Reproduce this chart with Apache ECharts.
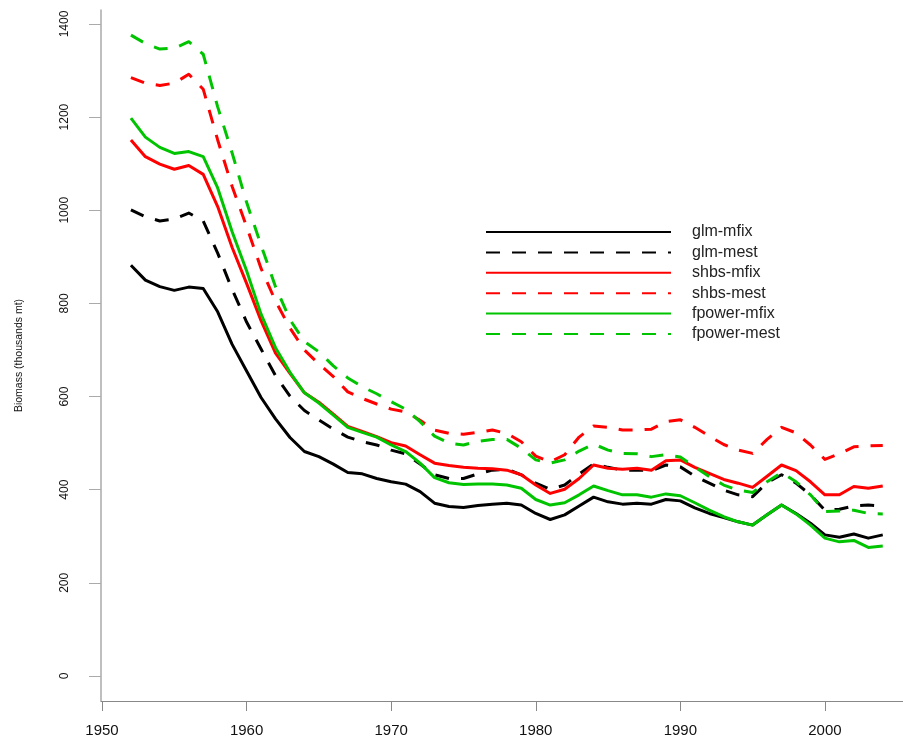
<!DOCTYPE html>
<html>
<head>
<meta charset="utf-8">
<script src="https://cdn.jsdelivr.net/npm/echarts@6/dist/echarts.min.js"></script>
<style>
  html, body { margin: 0; padding: 0; background: #fff; }
  #chart { width: 903px; height: 740px; }
</style>
</head>
<body>
<div id="chart"></div>
<script>
// ---- data ----
var years = [];
for (var y = 1952; y <= 2004; y++) years.push(y);

var glmMfix = [882, 850, 836, 828, 835, 832, 782, 712, 655, 598, 552, 512, 482, 471, 455, 437, 434, 424, 417, 412,
  396, 371, 364, 362, 366, 369, 371, 367, 349, 336, 346, 365, 384, 374, 369, 371, 369, 379, 376, 361,
  349, 340, 331, 324, 346, 367, 349, 328, 303, 298, 305, 296, 303];
var glmMest = [1001, 986, 977, 981, 994, 977, 908, 830, 760, 702, 645, 601, 570, 550, 530, 513, 503, 496, 485, 477,
  455, 432, 424, 424, 434, 442, 444, 432, 414, 401, 410, 434, 455, 448, 442, 442, 441, 453, 449, 429,
  414, 399, 389, 385, 415, 432, 414, 389, 356, 358, 365, 367, 365];
var shbsMfix = [1151, 1115, 1099, 1088, 1096, 1077, 1008, 920, 843, 763, 693, 650, 608, 588, 562, 536, 525, 514, 501, 494,
  475, 457, 452, 448, 446, 445, 442, 432, 410, 392, 401, 424, 453, 446, 444, 446, 442, 462, 464, 448,
  435, 422, 414, 405, 429, 453, 441, 417, 389, 389, 407, 403, 408];
var shbsMest = [1285, 1273, 1268, 1273, 1292, 1260, 1151, 1051, 965, 875, 805, 747, 700, 670, 643, 610, 596, 584, 573, 567,
  549, 528, 521, 519, 523, 528, 521, 503, 472, 460, 475, 513, 537, 534, 528, 528, 530, 546, 550, 534,
  515, 497, 485, 478, 508, 534, 522, 496, 465, 477, 492, 494, 495];
var fpowerMfix = [1198, 1157, 1135, 1122, 1126, 1115, 1048, 954, 870, 777, 705, 652, 608, 586, 560, 534, 523, 513, 496, 482,
  457, 426, 415, 411, 412, 412, 410, 403, 379, 367, 372, 389, 408, 398, 389, 389, 384, 391, 387, 372,
  356, 342, 331, 324, 346, 367, 348, 324, 296, 288, 291, 276, 279];
var fpowerMest = [1376, 1358, 1346, 1348, 1362, 1335, 1222, 1123, 1017, 925, 836, 765, 718, 696, 666, 640, 621, 606, 589, 573,
  546, 515, 500, 496, 504, 508, 508, 489, 464, 457, 464, 483, 498, 485, 478, 477, 471, 475, 470, 449,
  428, 410, 399, 394, 417, 437, 417, 389, 353, 354, 356, 349, 348];

var seriesNames = ['glm-mfix', 'glm-mest', 'shbs-mfix', 'shbs-mest', 'fpower-mfix', 'fpower-mest'];
var xTicks = [1950, 1960, 1970, 1980, 1990, 2000];
var yTicks = [0, 200, 400, 600, 800, 1000, 1200, 1400];
var yTitle = 'Biomass (thousands mt)';

// ---- chart ----
function pairs(vals) {
  return vals.map(function (v, i) { return [years[i], v]; });
}
var FONT = "'Liberation Sans', Arial, Helvetica, sans-serif";
var GREEN = '#00c400';
var DASH = [14, 12];
var styles = [
  { color: '#000000', type: 'solid' },
  { color: '#000000', type: DASH },
  { color: '#ff0000', type: 'solid' },
  { color: '#ff0000', type: DASH },
  { color: GREEN, type: 'solid' },
  { color: GREEN, type: DASH }
];
var allData = [glmMfix, glmMest, shbsMfix, shbsMest, fpowerMfix, fpowerMest];

var series = allData.map(function (vals, i) {
  return {
    name: seriesNames[i],
    type: 'line',
    data: pairs(vals),
    symbol: 'none',
    showSymbol: false,
    smooth: false,
    animation: false,
    color: styles[i].color,
    lineStyle: { color: styles[i].color, width: 3, type: styles[i].type, cap: 'butt', join: 'round' },
    z: 2 + i
  };
});

var chart = echarts.init(document.getElementById('chart'), null, { renderer: 'canvas' });
chart.setOption({
  animation: false,
  backgroundColor: '#ffffff',
  grid: { left: 101, right: 0, top: 10, bottom: 39, containLabel: false },
  xAxis: {
    type: 'value',
    min: 1949.93,
    max: 2005.4,
    splitLine: { show: false },
    axisLine: { show: true, onZero: false, lineStyle: { color: '#888888', width: 1 } },
    axisTick: { show: true, length: 10, customValues: xTicks, lineStyle: { color: '#888888' } },
    axisLabel: {
      customValues: xTicks,
      margin: 22,
      color: '#111111',
      fontFamily: FONT,
      fontSize: 15,
      formatter: function (v) { return String(v); }
    }
  },
  yAxis: {
    type: 'value',
    min: -53.7,
    max: 1430,
    name: yTitle,
    nameLocation: 'middle',
    nameRotate: 90,
    nameGap: 76,
    nameTextStyle: { fontFamily: FONT, fontSize: 10.5, color: '#111111' },
    splitLine: { show: false },
    axisLine: { show: true, onZero: false, lineStyle: { color: '#aaaaaa', width: 1.5 } },
    axisTick: { show: true, length: 12, customValues: yTicks, lineStyle: { color: '#aaaaaa' } },
    axisLabel: {
      customValues: yTicks,
      rotate: 90,
      margin: 30,
      color: '#111111',
      fontFamily: FONT,
      fontSize: 12,
      formatter: function (v) { return String(v); }
    }
  },
  legend: {
    orient: 'vertical',
    left: 485,
    top: 223,
    itemWidth: 185,
    itemHeight: 14,
    itemGap: 2.4,
    padding: 0,
    itemStyle: { color: 'rgba(0,0,0,0)', borderWidth: 0, opacity: 0 },
    textStyle: { fontFamily: FONT, fontSize: 16, lineHeight: 18, color: '#222222', padding: [0, 0, 0, 16] },
    data: seriesNames
  },
  series: series
});
</script>
</body>
</html>
